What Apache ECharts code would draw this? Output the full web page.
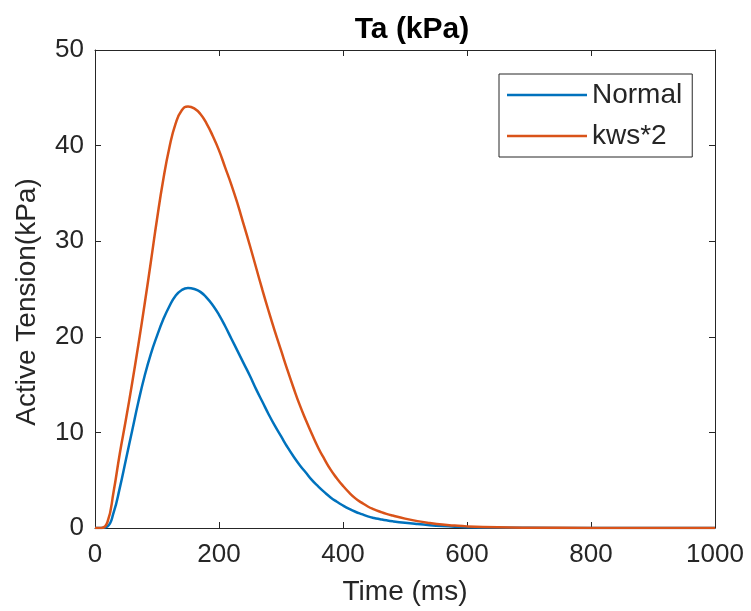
<!DOCTYPE html>
<html>
<head>
<meta charset="utf-8">
<script src="https://cdn.jsdelivr.net/npm/echarts@6/dist/echarts.min.js"></script>
<style>html,body{margin:0;padding:0;background:#fff;}#c{width:751px;height:611px;}</style>
</head>
<body>
<div id="c"></div>
<script>
var timeMs = [0, 10, 20, 30, 40, 50, 60, 70, 80, 90, 100, 110, 120, 130, 140, 150, 160, 170, 180, 190,
              200, 210, 220, 230, 240, 250, 260, 270, 280, 290, 300, 310, 320, 330, 340, 350, 360, 370, 380, 390,
              400, 410, 420, 430, 440, 450, 460, 470, 480, 500, 520, 540, 560, 580, 600, 650, 700, 800, 900, 1000];
var normal = [0, 0, 0.15, 1.6, 4.2, 7.2, 10.2, 13.2, 15.9, 18.2, 20.1, 21.8, 23.2, 24.3, 24.9, 25.1, 25.0, 24.7, 24.1, 23.3,
              22.3, 21.1, 19.8, 18.5, 17.2, 15.9, 14.5, 13.2, 11.9, 10.7, 9.6, 8.5, 7.5, 6.6, 5.8, 5.0, 4.35, 3.75, 3.2, 2.75,
              2.35, 2.0, 1.7, 1.45, 1.22, 1.05, 0.92, 0.8, 0.7, 0.54, 0.41, 0.3, 0.21, 0.14, 0.09, 0.04, 0.02, 0, 0, 0];
var kws2 = [0, 0, 0.6, 3.8, 7.8, 11.4, 15.2, 19.2, 23.4, 27.8, 32.3, 36.4, 39.8, 42.3, 43.7, 44.1, 43.9, 43.3, 42.3, 41.0,
            39.5, 37.7, 35.9, 33.9, 31.7, 29.5, 27.2, 24.9, 22.7, 20.6, 18.6, 16.6, 14.7, 12.9, 11.3, 9.8, 8.4, 7.2, 6.1, 5.2,
            4.4, 3.7, 3.1, 2.65, 2.25, 1.95, 1.7, 1.48, 1.3, 0.98, 0.72, 0.52, 0.36, 0.25, 0.17, 0.07, 0.03, 0.01, 0, 0];
var seriesNames = ['Normal', 'kws*2'];
var xTicks = {min: 0, max: 1000, interval: 200};
var yTicks = {min: 0, max: 50, interval: 10};

function pairs(v) { return timeMs.map(function (t, i) { return [t, v[i]]; }); }

var axisCol = '#262626';
var font = 'Liberation Sans, Arial, Helvetica, sans-serif';
var chart = echarts.init(document.getElementById('c'), null, {renderer: 'canvas'});
function xAx(pos, showLabel) {
  return {
    type: 'value', position: pos, min: xTicks.min, max: xTicks.max, interval: xTicks.interval,
    axisLine: {show: true, onZero: false, lineStyle: {color: axisCol, width: 1}},
    axisTick: {show: true, inside: true, length: 6, lineStyle: {color: axisCol}},
    axisLabel: {show: showLabel, color: axisCol, fontSize: 26, fontFamily: font, margin: 14,
                formatter: function (v) { return String(v); }},
    splitLine: {show: false},
    name: showLabel ? 'Time (ms)' : '', nameLocation: 'middle', nameGap: 50, nameMoveOverlap: false,
    nameTextStyle: {color: axisCol, fontSize: 28, fontFamily: font}
  };
}
function yAx(pos, showLabel) {
  return {
    type: 'value', position: pos, min: yTicks.min, max: yTicks.max, interval: yTicks.interval,
    axisLine: {show: true, onZero: false, lineStyle: {color: axisCol, width: 1}},
    axisTick: {show: true, inside: true, length: 6, lineStyle: {color: axisCol}},
    axisLabel: {show: showLabel, color: axisCol, fontSize: 26, fontFamily: font, margin: 11,
                formatter: function (v) { return String(v); }},
    splitLine: {show: false},
    name: showLabel ? 'Active Tension(kPa)' : '', nameLocation: 'middle', nameGap: 54, nameMoveOverlap: false,
    nameTextStyle: {color: axisCol, fontSize: 28, fontFamily: font, padding: [0, 26, 0, 0]}
  };
}
chart.setOption({
  animation: false,
  backgroundColor: '#fff',
  title: {
    text: 'Ta (kPa)', left: 407, top: 10, textAlign: 'center',
    textStyle: {color: '#000', fontSize: 30, fontWeight: 'bold', fontFamily: font}
  },
  grid: {left: 95, right: 36, top: 50, bottom: 82, containLabel: false},
  legend: {
    orient: 'vertical', left: 499, top: 74,
    data: seriesNames,
    icon: 'rect', itemWidth: 80, itemHeight: 2.5, itemGap: 13,
    padding: [7, 10, 7, 8],
    borderColor: axisCol, borderWidth: 1, backgroundColor: '#fff',
    textStyle: {color: axisCol, fontSize: 28, fontFamily: font, lineHeight: 28}
  },
  xAxis: [xAx('bottom', true), xAx('top', false)],
  yAxis: [yAx('left', true), yAx('right', false)],
  series: [
    {name: seriesNames[0], type: 'line', data: pairs(normal), showSymbol: false, smooth: 0.5,
     lineStyle: {color: '#0072BD', width: 2.5}, itemStyle: {color: '#0072BD'}},
    {name: seriesNames[1], type: 'line', data: pairs(kws2), showSymbol: false, smooth: 0.5,
     lineStyle: {color: '#D95319', width: 2.5}, itemStyle: {color: '#D95319'}}
  ]
});
</script>
</body>
</html>
